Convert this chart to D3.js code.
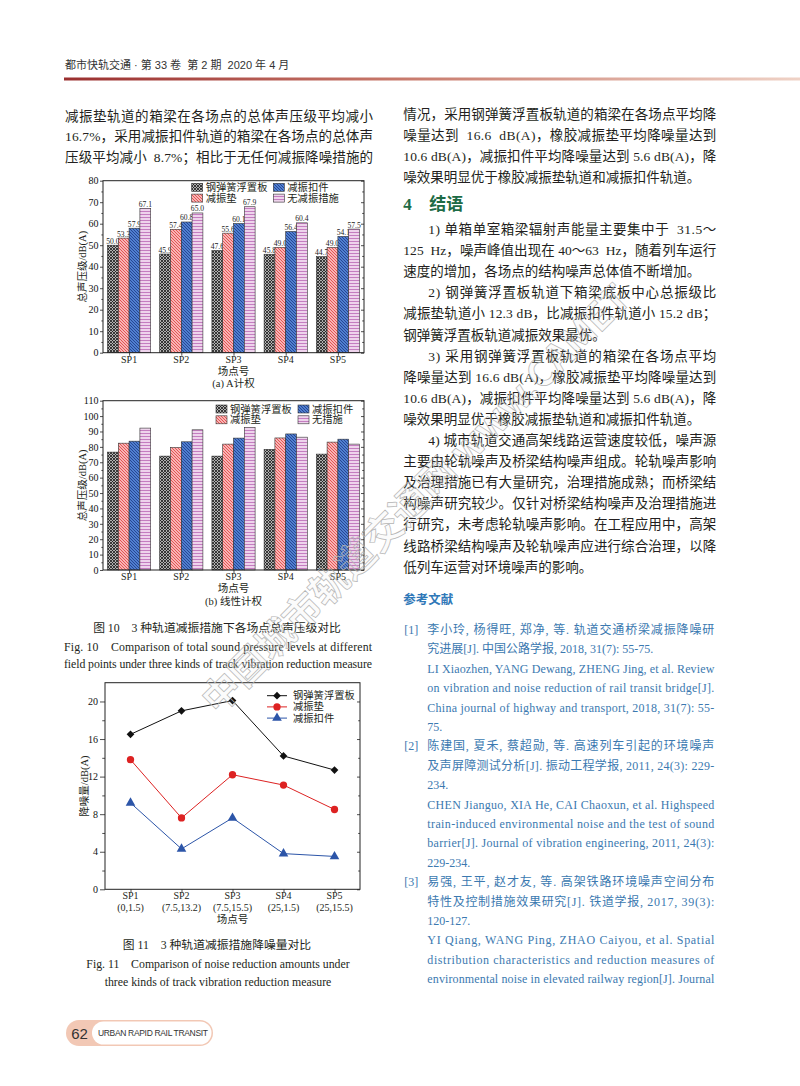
<!DOCTYPE html>
<html lang="zh">
<head>
<meta charset="UTF-8">
<title>图10 图11 减振措施对比</title>
<script src="https://d3js.org/d3.v7.min.js"></script>
<style>
  body { margin: 0; background: #fff; }
  svg { display: block; }
  svg text { white-space: pre; }
</style>
</head>
<body>
<script>
// ---- chart data ----
const sites = ["SP1", "SP2", "SP3", "SP4", "SP5"];
const siteCoords = ["(0,1.5)", "(7.5,13.2)", "(7.5,15.5)", "(25,1.5)", "(25,15.5)"];
const seriesA = ["钢弹簧浮置板", "减振垫", "减振扣件", "无减振措施"];
const seriesB = ["钢弹簧浮置板", "减振垫", "减振扣件", "无措施"];
// A-weighted total SPL, one row per series
const levelA = [
  [50.0, 45.9, 47.6, 45.8, 44.7],
  [53.3, 57.4, 55.6, 49.0, 49.0],
  [57.9, 60.8, 60.1, 56.4, 54.1],
  [67.1, 65.0, 67.9, 60.4, 57.5]
];
// linear total SPL
const levelLin = [
  [76.6, 74.0, 74.0, 78.4, 75.3],
  [82.4, 79.6, 81.8, 85.8, 83.1],
  [83.7, 83.3, 85.7, 88.4, 85.0],
  [92.2, 91.1, 92.5, 86.3, 81.8]
];
const lineSeries = ["钢弹簧浮置板", "减振垫", "减振扣件"];
const reduction = [
  [16.5, 19.0, 20.1, 14.2, 12.7],
  [13.8, 7.6, 12.2, 11.1, 8.5],
  [9.2, 4.3, 7.6, 3.8, 3.5]
];
const ticksA = d3.range(0, 81, 10);
const ticksB = d3.range(0, 111, 10);
const ticksC = d3.range(0, 21, 4);

// ---- page text ----
const leftLines = [
  ["减振垫轨道的箱梁在各场点的总体声压级平均减小", true],
  ["16.7%，采用减振扣件轨道的箱梁在各场点的总体声", true],
  ["压级平均减小  8.7%；相比于无任何减振降噪措施的", true]
];
const rightTop = [
  ["情况，采用钢弹簧浮置板轨道的箱梁在各场点平均降", true, 0],
  ["噪量达到  16.6  dB(A)，橡胶减振垫平均降噪量达到", true, 0],
  ["10.6 dB(A)，减振扣件平均降噪量达到 5.6 dB(A)，降", true, 0],
  ["噪效果明显优于橡胶减振垫轨道和减振扣件轨道。", false, 0]
];
const rightBottom = [
  ["1) 单箱单室箱梁辐射声能量主要集中于  31.5～", true, 1],
  ["125  Hz，噪声峰值出现在 40～63  Hz，随着列车运行", true, 0],
  ["速度的增加，各场点的结构噪声总体值不断增加。", false, 0],
  ["2) 钢弹簧浮置板轨道下箱梁底板中心总振级比", true, 1],
  ["减振垫轨道小 12.3 dB，比减振扣件轨道小 15.2 dB；", true, 0],
  ["钢弹簧浮置板轨道减振效果最优。", false, 0],
  ["3) 采用钢弹簧浮置板轨道的箱梁在各场点平均", true, 1],
  ["降噪量达到 16.6 dB(A)，橡胶减振垫平均降噪量达到", true, 0],
  ["10.6 dB(A)，减振扣件平均降噪量达到 5.6 dB(A)，降", true, 0],
  ["噪效果明显优于橡胶减振垫轨道和减振扣件轨道。", false, 0],
  ["4) 城市轨道交通高架线路运营速度较低，噪声源", true, 1],
  ["主要由轮轨噪声及桥梁结构噪声组成。轮轨噪声影响", true, 0],
  ["及治理措施已有大量研究，治理措施成熟；而桥梁结", true, 0],
  ["构噪声研究较少。仅针对桥梁结构噪声及治理措施进", true, 0],
  ["行研究，未考虑轮轨噪声影响。在工程应用中，高架", true, 0],
  ["线路桥梁结构噪声及轮轨噪声应进行综合治理，以降", true, 0],
  ["低列车运营对环境噪声的影响。", false, 0]
];
const refLines = [
  ["[1]", "李小玲, 杨得旺, 郑净, 等. 轨道交通桥梁减振降噪研", true],
  ["", "究进展[J]. 中国公路学报, 2018, 31(7): 55-75.", false],
  ["", "LI Xiaozhen, YANG Dewang, ZHENG Jing, et al. Review", true],
  ["", "on vibration and noise reduction of rail transit bridge[J].", true],
  ["", "China journal of highway and transport, 2018, 31(7): 55-", true],
  ["", "75.", false],
  ["[2]", "陈建国, 夏禾, 蔡超勋, 等. 高速列车引起的环境噪声", true],
  ["", "及声屏障测试分析[J]. 振动工程学报, 2011, 24(3): 229-", true],
  ["", "234.", false],
  ["", "CHEN Jianguo, XIA He, CAI Chaoxun, et al. Highspeed", true],
  ["", "train-induced environmental noise and the test of sound", true],
  ["", "barrier[J]. Journal of vibration engineering, 2011, 24(3):", true],
  ["", "229-234.", false],
  ["[3]", "易强, 王平, 赵才友, 等. 高架铁路环境噪声空间分布", true],
  ["", "特性及控制措施效果研究[J]. 铁道学报, 2017, 39(3):", true],
  ["", "120-127.", false],
  ["", "YI Qiang, WANG Ping, ZHAO Caiyou, et al. Spatial", true],
  ["", "distribution characteristics and reduction measures of", true],
  ["", "environmental noise in elevated railway region[J]. Journal", true]
];

const SERIF = "'Liberation Serif','Noto Sans CJK SC',serif";
const SANS = "'Liberation Sans','Noto Sans CJK SC',sans-serif";

const svg = d3.select("body").append("svg")
  .attr("width", 800).attr("height", 1086);

// ---- patterns for bars ----
const defs = svg.append("defs");
function pattern(id, bg, lines, stroke, sw, size) {
  const p = defs.append("pattern").attr("id", id)
    .attr("patternUnits", "userSpaceOnUse")
    .attr("width", size).attr("height", size);
  p.append("rect").attr("width", size).attr("height", size).attr("fill", bg);
  lines.forEach(d => p.append("path").attr("d", d)
    .attr("stroke", stroke).attr("stroke-width", sw).attr("fill", "none"));
}
pattern("pat0", "#b0b0b0", ["M0,0L3,3", "M-1,2L1,4", "M2,-1L4,1", "M0,3L3,0", "M-1,1L1,-1", "M2,4L4,2"], "#1a1a1a", 0.8, 3);
pattern("pat1", "#f9b4b4", ["M0,0L3,3", "M-1,2L1,4", "M2,-1L4,1"], "#e04a4a", 0.9, 3);
pattern("pat2", "#4f7fd0", ["M0,0L3,3", "M-1,2L1,4", "M2,-1L4,1"], "#223f8c", 0.9, 3);
pattern("pat3", "#f6e2f4", ["M0,1.5L3,1.5"], "#c47dc0", 1.3, 3);

const grad = defs.append("linearGradient").attr("id", "rule");
grad.append("stop").attr("offset", "0%").attr("stop-color", "#9a2f2f");
grad.append("stop").attr("offset", "45%").attr("stop-color", "#c7786a");
grad.append("stop").attr("offset", "100%").attr("stop-color", "#efd2c6");

// ---- helpers ----
function line(g, str, x, y, o) {
  const t = g.append("text").attr("x", x).attr("y", y)
    .attr("dominant-baseline", "central")
    .attr("font-family", o.font || SERIF)
    .attr("font-size", o.size || 13.5)
    .attr("fill", o.color || "#231f20")
    .text(str);
  if (o.width) t.attr("textLength", o.width).attr("lengthAdjust", "spacing");
  if (o.anchor) t.attr("text-anchor", o.anchor);
  if (o.weight) t.attr("font-weight", o.weight);
  return t;
}

function styleAxis(sel) {
  sel.select(".domain").remove();
  sel.selectAll("line").attr("stroke", "#222").attr("stroke-width", 0.8);
  sel.selectAll("text").attr("font-family", SERIF).attr("font-size", 10).attr("fill", "#111");
}

function frameAxes(g, x, y, majors, minors, box) {
  g.append("g").attr("transform", `translate(${box.left},0)`)
    .call(d3.axisLeft(y).tickValues(majors).tickSize(box.tick).tickPadding(box.pad))
    .call(styleAxis);
  g.append("g").attr("transform", `translate(${box.left},0)`)
    .call(d3.axisLeft(y).tickValues(minors).tickSize(box.tick * 0.55).tickFormat(""))
    .call(styleAxis);
  g.append("g").attr("transform", `translate(${box.right},0)`)
    .call(d3.axisRight(y).tickValues(majors).tickSize(-3).tickFormat(""))
    .call(styleAxis);
  g.append("g").attr("transform", `translate(${box.right},0)`)
    .call(d3.axisRight(y).tickValues(minors).tickSize(-1.8).tickFormat(""))
    .call(styleAxis);
  g.append("g").attr("transform", `translate(0,${box.bottom})`)
    .call(d3.axisBottom(x).tickValues(d3.range(1, 6)).tickSize(3).tickFormat(""))
    .call(styleAxis);
  g.append("rect").attr("x", box.left).attr("y", box.top)
    .attr("width", box.right - box.left).attr("height", box.bottom - box.top)
    .attr("fill", "none").attr("stroke", "#222").attr("stroke-width", 1);
}

function barChart(o) {
  const g = svg.append("g");
  const x = d3.scaleLinear().domain([0.5, 5.5]).range([o.left, o.right]);
  const y = d3.scaleLinear().domain([0, o.max]).range([o.bottom, o.top]);
  const inner = d3.scaleBand().domain(d3.range(4)).range([-21.6, 21.6]);

  o.values.forEach((vals, s) => {
    g.selectAll(null).data(vals).enter().append("rect")
      .attr("x", (d, i) => x(i + 1) + inner(s))
      .attr("y", d => y(d))
      .attr("width", inner.bandwidth())
      .attr("height", d => y(0) - y(d))
      .attr("fill", `url(#pat${s})`)
      .attr("stroke", "#333").attr("stroke-width", 0.6);
    if (o.labels) {
      g.selectAll(null).data(vals).enter().append("text")
        .attr("x", (d, i) => x(i + 1) + inner(s) + inner.bandwidth() / 2)
        .attr("y", d => y(d) - 1.5)
        .attr("text-anchor", "middle")
        .attr("font-family", SERIF).attr("font-size", 7.6).attr("fill", "#222")
        .text(d => d.toFixed(1));
    }
  });

  frameAxes(g, x, y, o.ticks, o.ticks.slice(1).map(d => d - 5),
    { left: o.left, right: o.right, top: o.top, bottom: o.bottom, tick: 3, pad: 1.5 });

  sites.forEach((s, i) => line(g, s, x(i + 1), o.bottom + 6.5, { size: 10, anchor: "middle" }));
  line(g, "场点号", (o.left + o.right) / 2, o.bottom + 18.5, { size: 10.5, anchor: "middle" });
  line(g, o.sub, (o.left + o.right) / 2, o.bottom + 31, { size: 10.5, anchor: "middle" });
  line(g, "总声压级/dB(A)", 0, 0, { size: 10.5, anchor: "middle" })
    .attr("transform", `translate(${o.left - 21},${(o.top + o.bottom) / 2}) rotate(-90)`);

  // legend, two columns
  o.names.forEach((n, s) => {
    const col = s === 2 || s === 3 ? 1 : 0;
    const row = s === 1 || s === 3 ? 1 : 0;
    const lx = o.legX[col], ly = o.legY + row * 10.8;
    g.append("rect").attr("x", lx).attr("y", ly - 4).attr("width", 11).attr("height", 8)
      .attr("fill", `url(#pat${s})`).attr("stroke", "#333").attr("stroke-width", 0.6);
    line(g, n, lx + 14, ly, { size: 10.3 });
  });
}

// ---- header ----
line(svg, "都市快轨交通 · 第 33 卷  第 2 期  2020 年 4 月", 65, 65, { font: SANS, size: 11, color: "#333" });
svg.append("rect").attr("x", 64).attr("y", 77.5).attr("width", 736).attr("height", 3).attr("fill", "url(#rule)");

// ---- left column text ----
leftLines.forEach((l, i) => line(svg, l[0], 65, 116 + i * 20.5, { width: l[1] ? 308 : null }));

// ---- chart (a) and (b) ----
barChart({ values: levelA, names: seriesA, ticks: ticksA, max: 80, labels: true,
  left: 103, right: 364, top: 180.7, bottom: 352.7, sub: "(a) A计权",
  legX: [191.7, 273.3], legY: 187.3 });
barChart({ values: levelLin, names: seriesB, ticks: ticksB, max: 110, labels: false,
  left: 103, right: 364, top: 400.7, bottom: 570, sub: "(b) 线性计权",
  legX: [216, 298], legY: 409 });

// ---- caption fig 10 ----
line(svg, "图 10    3 种轨道减振措施下各场点总声压级对比", 217, 628, { size: 11.8, anchor: "middle" });
line(svg, "Fig. 10    Comparison of total sound pressure levels at different", 64, 647, { size: 11.8, width: 308 });
line(svg, "field points under three kinds of track vibration reduction measure", 64, 664, { size: 11.8, width: 308 });

// ---- chart (c) line chart ----
(function () {
  const g = svg.append("g");
  const box = { left: 105, right: 360, top: 682.7, bottom: 889.3, tick: 5, pad: 2 };
  const x = d3.scaleLinear().domain([0.5, 5.5]).range([box.left, box.right]);
  const y = d3.scaleLinear().domain([0, 22]).range([box.bottom, box.top]);
  frameAxes(g, x, y, ticksC, ticksC.slice(0, -1).map(d => d + 2), box);

  const colors = ["#111", "#dd2222", "#2c55a8"];
  const shapes = [d3.symbolSquare, d3.symbolCircle, d3.symbolTriangle];
  const sizes = [30, 42, 40];
  const rot = [45, 0, 0];
  const path = d3.line().x((d, i) => x(i + 1)).y(d => y(d));

  reduction.forEach((vals, s) => {
    g.append("path").attr("d", path(vals)).attr("fill", "none")
      .attr("stroke", colors[s]).attr("stroke-width", 1);
    g.selectAll(null).data(vals).enter().append("path")
      .attr("d", d3.symbol(shapes[s], sizes[s]))
      .attr("transform", (d, i) => `translate(${x(i + 1)},${y(d)}) rotate(${rot[s]})`)
      .attr("fill", colors[s]);
    const ly = 695.7 + s * 11.2;
    g.append("line").attr("x1", 267).attr("x2", 287).attr("y1", ly).attr("y2", ly)
      .attr("stroke", colors[s]).attr("stroke-width", 1);
    g.append("path").attr("d", d3.symbol(shapes[s], sizes[s]))
      .attr("transform", `translate(277,${ly}) rotate(${rot[s]})`).attr("fill", colors[s]);
    line(g, lineSeries[s], 293, ly, { size: 10.3 });
  });

  sites.forEach((s, i) => {
    line(g, s, x(i + 1), 895.5, { size: 10, anchor: "middle" });
    line(g, siteCoords[i], x(i + 1), 907, { size: 10, anchor: "middle" });
  });
  line(g, "场点号", (box.left + box.right) / 2, 919, { size: 10.5, anchor: "middle" });
  line(g, "降噪量/dB(A)", 0, 0, { size: 10.5, anchor: "middle" })
    .attr("transform", `translate(84,${(box.top + box.bottom) / 2}) rotate(-90)`);
})();

// ---- caption fig 11 ----
line(svg, "图 11    3 种轨道减振措施降噪量对比", 217, 945, { size: 11.8, anchor: "middle" });
line(svg, "Fig. 11    Comparison of noise reduction amounts under", 218, 964, { size: 11.8, anchor: "middle" });
line(svg, "three kinds of track vibration reduction measure", 218, 981.5, { size: 11.8, anchor: "middle" });

// ---- right column ----
const RX = 403.3, RW = 313;
rightTop.forEach((l, i) => line(svg, l[0], RX, 114.5 + i * 21, { width: l[1] ? RW : null }));
line(svg, "4", RX, 204, { size: 17, weight: "bold", color: "#1d6b45" });
line(svg, "结语", RX + 26, 204, { size: 17, weight: "bold", color: "#1d6b45", font: SANS });
rightBottom.forEach((l, i) => {
  const ind = l[2] ? 25 : 0;
  line(svg, l[0], RX + ind, 229.5 + i * 21.1, { width: l[1] ? RW - ind : null });
});

line(svg, "参考文献", RX, 600, { size: 12.5, color: "#2f78b8", weight: "bold", font: SANS });
refLines.forEach((l, i) => {
  const y = 630 + i * 19.4;
  if (l[0]) line(svg, l[0], 404.3, y, { size: 12, color: "#3b79b0" });
  line(svg, l[1], 427.3, y, { size: 12, color: "#3b79b0", width: l[2] ? 287 : null });
});

// ---- footer ----
svg.append("rect").attr("x", 66).attr("y", 1020).attr("width", 147).attr("height", 26).attr("rx", 13)
  .attr("fill", "#f2c8b5");
svg.append("rect").attr("x", 92).attr("y", 1021.5).attr("width", 119.5).attr("height", 23).attr("rx", 11.5)
  .attr("fill", "#fff");
line(svg, "62", 79.5, 1033, { font: SANS, size: 15, color: "#333", anchor: "middle" });
line(svg, "URBAN RAPID RAIL TRANSIT", 98, 1033, { font: SANS, size: 8.5, color: "#333", width: 110 });

// ---- watermark ----
svg.append("text")
  .attr("transform", "translate(218,716) rotate(-45)")
  .attr("font-family", "'Noto Sans CJK SC',sans-serif").attr("font-weight", "bold")
  .attr("font-size", 38).attr("fill", "rgba(200,200,200,0.08)")
  .attr("stroke", "#b4b4b4").attr("stroke-width", 0.7)
  .text("中国城市轨道交通网 www.CAMET");
</script>
</body>
</html>
